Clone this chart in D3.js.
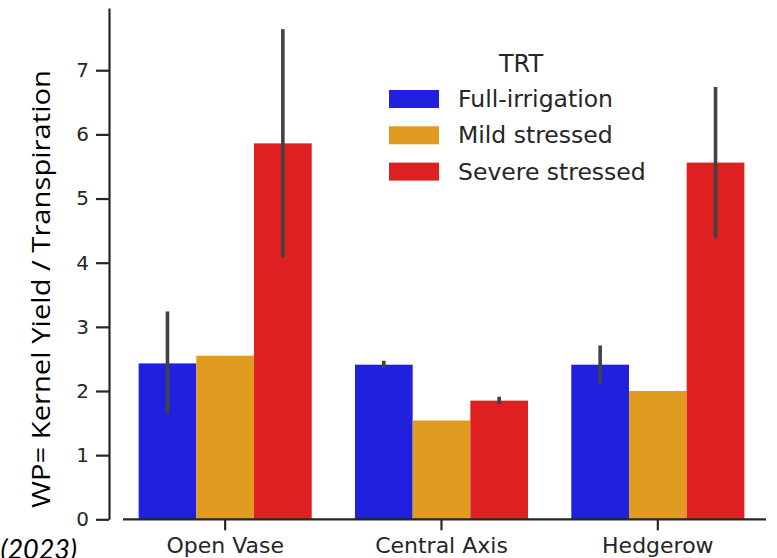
<!DOCTYPE html>
<html>
<head>
<meta charset="utf-8">
<script src="https://cdn.jsdelivr.net/npm/d3@7"></script>
<style>
  body { margin: 0; background: #fff; }
  svg { display: block; }
</style>
</head>
<body>
<svg id="chart"></svg>
<script>
// data
var categories = ["Open Vase", "Central Axis", "Hedgerow"];
var treatments = ["Full-irrigation", "Mild stressed", "Severe stressed"];
var colors = ["#2020df", "#df9c20", "#df2020"];
var fullIrr = [2.43, 2.41, 2.41];
var mildStr = [2.55, 1.54, 2.0];
var severeStr = [5.86, 1.85, 5.56];
var errLow = [[1.64, 2.35, 2.12], [null, null, null], [4.08, 1.80, 4.39]];
var errHigh = [[3.24, 2.47, 2.71], [null, null, null], [7.64, 1.91, 6.74]];
var yTicks = [0, 1, 2, 3, 4, 5, 6, 7];

var series = [fullIrr, mildStr, severeStr];

var width = 777, height = 558;
var svg = d3.select("#chart").attr("width", width).attr("height", height);

var x = d3.scaleBand().domain(categories).range([117, 766])
  .paddingInner(0.2).paddingOuter(0.1);
var x1 = d3.scaleBand().domain(treatments).range([0, x.bandwidth()]);
var y = d3.scaleLinear().domain([0, 7.97]).range([519.3, 8]);

// bars
categories.forEach(function (c, ci) {
  treatments.forEach(function (t, ti) {
    var v = series[ti][ci];
    svg.append("rect")
      .attr("x", x(c) + x1(t))
      .attr("y", y(v))
      .attr("width", x1.bandwidth())
      .attr("height", y(0) - y(v))
      .attr("fill", colors[ti]);
  });
});

// error bars
categories.forEach(function (c, ci) {
  treatments.forEach(function (t, ti) {
    var lo = errLow[ti][ci], hi = errHigh[ti][ci];
    if (lo == null) return;
    var cx = x(c) + x1(t) + x1.bandwidth() / 2;
    svg.append("line")
      .attr("x1", cx).attr("x2", cx)
      .attr("y1", y(lo)).attr("y2", y(hi))
      .attr("stroke", "#424242")
      .attr("stroke-width", 3.6);
  });
});

// y axis
var yAxis = d3.axisLeft(y).tickValues(yTicks).tickSize(13).tickSizeOuter(0).tickPadding(7);
var gy = svg.append("g").attr("transform", "translate(109,0)").call(yAxis);
gy.select(".domain").attr("stroke", "#262626").attr("stroke-width", 2.2);
gy.selectAll(".tick line").attr("stroke", "#262626").attr("stroke-width", 2.2);
gy.selectAll(".tick text")
  .attr("fill", "#262626")
  .style("font-family", "DejaVu Sans")
  .style("font-size", "20px");

// x axis
var xAxis = d3.axisBottom(x).tickSize(11).tickSizeOuter(0).tickPadding(7);
var gx = svg.append("g").attr("transform", "translate(0," + y(0) + ")").call(xAxis);
gx.select(".domain").remove();
gx.append("line")
  .attr("x1", x.range()[0] + 6).attr("x2", x.range()[1])
  .attr("stroke", "#262626").attr("stroke-width", 2.2);
gx.selectAll(".tick line").attr("stroke", "#262626").attr("stroke-width", 2.2);
gx.selectAll(".tick text")
  .attr("fill", "#262626")
  .style("font-family", "DejaVu Sans")
  .style("font-size", "22px");

// y label
svg.append("text")
  .attr("transform", "translate(49.5,289) rotate(-90)")
  .attr("text-anchor", "middle")
  .attr("textLength", 438)
  .attr("lengthAdjust", "spacingAndGlyphs")
  .style("font-family", "Open Sans")
  .style("font-size", "26px")
  .attr("fill", "#000")
  .text("WP= Kernel Yield / Transpiration");

// cropped source note
svg.append("text")
  .attr("x", 77).attr("y", 559)
  .attr("text-anchor", "end")
  .style("font-family", "Lato")
  .style("font-style", "italic")
  .style("font-size", "27px")
  .attr("fill", "#000")
  .text("(2023)");

// legend
var legend = svg.append("g");
legend.append("text")
  .attr("x", 521).attr("y", 72)
  .attr("text-anchor", "middle")
  .style("font-family", "DejaVu Sans")
  .style("font-size", "24px")
  .attr("fill", "#262626")
  .text("TRT");
treatments.forEach(function (t, i) {
  var cy = 99 + i * 36.3;
  legend.append("rect")
    .attr("x", 389).attr("y", cy - 9)
    .attr("width", 50).attr("height", 18)
    .attr("fill", colors[i]);
  legend.append("text")
    .attr("x", 458).attr("y", cy + 8)
    .style("font-family", "DejaVu Sans")
    .style("font-size", "23.5px")
    .attr("fill", "#262626")
    .text(t);
});
</script>
</body>
</html>
